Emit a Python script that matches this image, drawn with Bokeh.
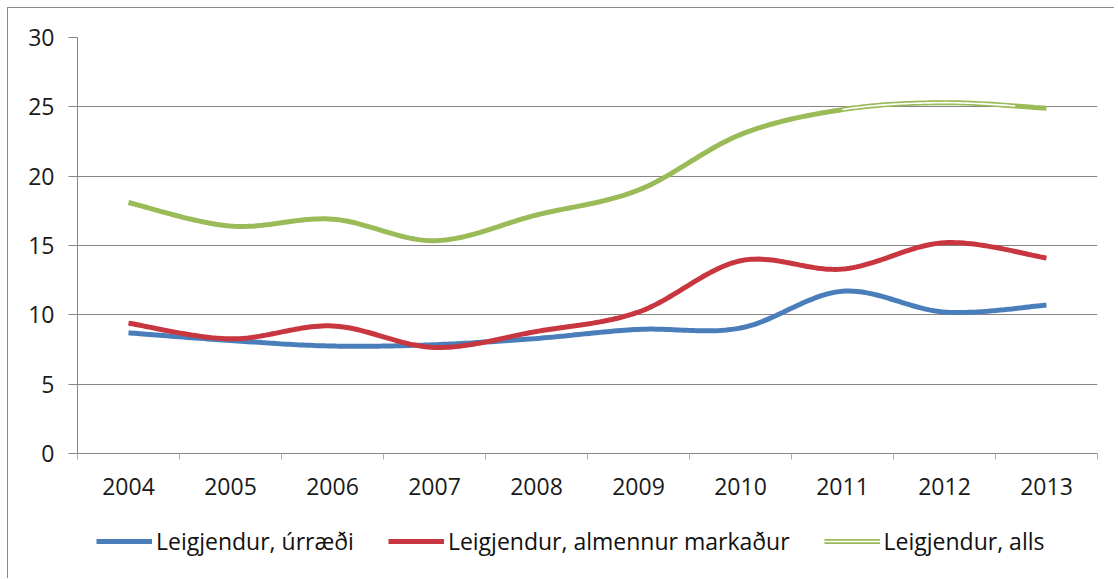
import numpy as np
from bokeh.plotting import figure
from bokeh.layouts import column
from bokeh.models import FixedTicker, Legend, LegendItem
from bokeh.embed import file_html
from bokeh.resources import INLINE

years = ["2004", "2005", "2006", "2007", "2008", "2009", "2010", "2011", "2012", "2013"]
urraedi = [8.7, 8.15, 7.75, 7.85, 8.3, 8.95, 9.05, 11.7, 10.2, 10.7]
almennur = [9.4, 8.27, 9.2, 7.65, 8.8, 10.2, 13.9, 13.3, 15.2, 14.1]
alls = [18.1, 16.4, 16.9, 15.35, 17.2, 19.0, 23.0, 24.8, 25.3, 24.9]
names = ["Leigjendur, úrræði", "Leigjendur, almennur markaður", "Leigjendur, alls"]
y_ticks = [0, 5, 10, 15, 20, 25, 30]

BLUE, RED, GREEN = "#4A7EBB", "#C8373F", "#9BBB59"
GRAY = "#868686"
FONT = "Open Sans"


def smooth(vals, n=30):
    """Excel-like smoothed line (Catmull-Rom Bezier through the points)."""
    xs = np.arange(len(vals), dtype=float)
    ys = np.asarray(vals, dtype=float)
    px = np.concatenate([[xs[0]], xs, [xs[-1]]])
    py = np.concatenate([[ys[0]], ys, [ys[-1]]])
    outx, outy = [], []
    t = np.linspace(0, 1, n)
    for i in range(len(vals) - 1):
        p0 = (px[i + 1], py[i + 1])
        p3 = (px[i + 2], py[i + 2])
        c1 = (p0[0] + (px[i + 2] - px[i]) / 6, p0[1] + (py[i + 2] - py[i]) / 6)
        c2 = (p3[0] - (px[i + 3] - px[i + 1]) / 6, p3[1] - (py[i + 3] - py[i + 1]) / 6)
        bx = (1 - t) ** 3 * p0[0] + 3 * (1 - t) ** 2 * t * c1[0] + 3 * (1 - t) * t ** 2 * c2[0] + t ** 3 * p3[0]
        by = (1 - t) ** 3 * p0[1] + 3 * (1 - t) ** 2 * t * c1[1] + 3 * (1 - t) * t ** 2 * c2[1] + t ** 3 * p3[1]
        if i > 0:
            bx, by = bx[1:], by[1:]
        outx.extend(bx)
        outy.extend(by)
    return np.array(outx), np.array(outy)


p = figure(width=1106, height=505, output_backend="svg", toolbar_location=None,
           x_range=(-0.5, len(years) - 0.5), y_range=(0, 30),
           min_border_left=69, min_border_right=17, min_border_top=29, min_border_bottom=60)
p.outline_line_color = None
p.background_fill_color = "white"
p.border_fill_color = "white"

# axes
p.xaxis.ticker = FixedTicker(ticks=list(range(len(years))),
                             minor_ticks=[i - 0.5 for i in range(len(years) + 1)])
p.xaxis.major_label_overrides = {i: y for i, y in enumerate(years)}
p.xaxis.major_tick_out = 0
p.xaxis.major_tick_in = 0
p.xaxis.minor_tick_out = 6
p.xaxis.minor_tick_in = 0
p.xaxis.minor_tick_line_color = "#b0b0b0"
p.xaxis.axis_line_color = GRAY
p.xaxis.major_label_standoff = 18
p.yaxis.ticker = FixedTicker(ticks=y_ticks)
p.yaxis.major_tick_out = 9
p.yaxis.major_tick_in = 0
p.yaxis.major_tick_line_color = GRAY
p.yaxis.minor_tick_line_color = None
p.yaxis.axis_line_color = GRAY
p.yaxis.major_label_standoff = 14
for ax in (p.xaxis, p.yaxis):
    ax.major_label_text_font = FONT
    ax.major_label_text_font_size = "23px"
    ax.major_label_text_color = "#1a1a1a"
    ax.axis_line_width = 1

p.xgrid.grid_line_color = None
p.ygrid.ticker = FixedTicker(ticks=y_ticks)
p.ygrid.grid_line_color = GRAY
p.ygrid.grid_line_width = 1

# series
gx, gy = smooth(alls)
bx, by = smooth(urraedi)
rx, ry = smooth(almennur)

p.line(gx, gy, line_color=GREEN, line_width=5)
# double-line look of the last part of the total series
mask = (gx >= 7.0) & (gx <= 8.7)
p.line(gx[mask], gy[mask], line_color="white", line_width=1.6)
p.line(bx, by, line_color=BLUE, line_width=5)
p.line(rx, ry, line_color=RED, line_width=5)

# legend in its own strip below the chart
lg = figure(width=1106, height=65, output_backend="svg", toolbar_location=None,
            x_axis_type=None, y_axis_type=None, x_range=(0, 1), y_range=(0, 1),
            min_border_left=0, min_border_right=0, min_border_top=0, min_border_bottom=0)
lg.outline_line_color = None
lg.xgrid.grid_line_color = None
lg.ygrid.grid_line_color = None
lb = lg.line([np.nan], [np.nan], line_color=BLUE, line_width=5)
lr = lg.line([np.nan], [np.nan], line_color=RED, line_width=5)
lg1 = lg.line([np.nan], [np.nan], line_color=GREEN, line_width=5)
lg2 = lg.line([np.nan], [np.nan], line_color="white", line_width=1.6)

legend = Legend(items=[LegendItem(label=names[0], renderers=[lb]),
                       LegendItem(label=names[1], renderers=[lr]),
                       LegendItem(label=names[2], renderers=[lg1, lg2])],
                orientation="horizontal", location=(19, 21),
                glyph_width=56, glyph_height=20, label_standoff=4, spacing=34,
                padding=0, margin=0, border_line_color=None, background_fill_alpha=0,
                label_text_font=FONT, label_text_font_size="23px", label_text_color="#111111")
lg.add_layout(legend, "center")

layout = column(p, lg, spacing=0)
layout.styles = {"margin-left": "7px", "margin-top": "7px",
                 "border-top": "1px solid #8a8a8a", "border-left": "1px solid #8a8a8a"}

open("out.html", "w").write(file_html(layout, INLINE))
